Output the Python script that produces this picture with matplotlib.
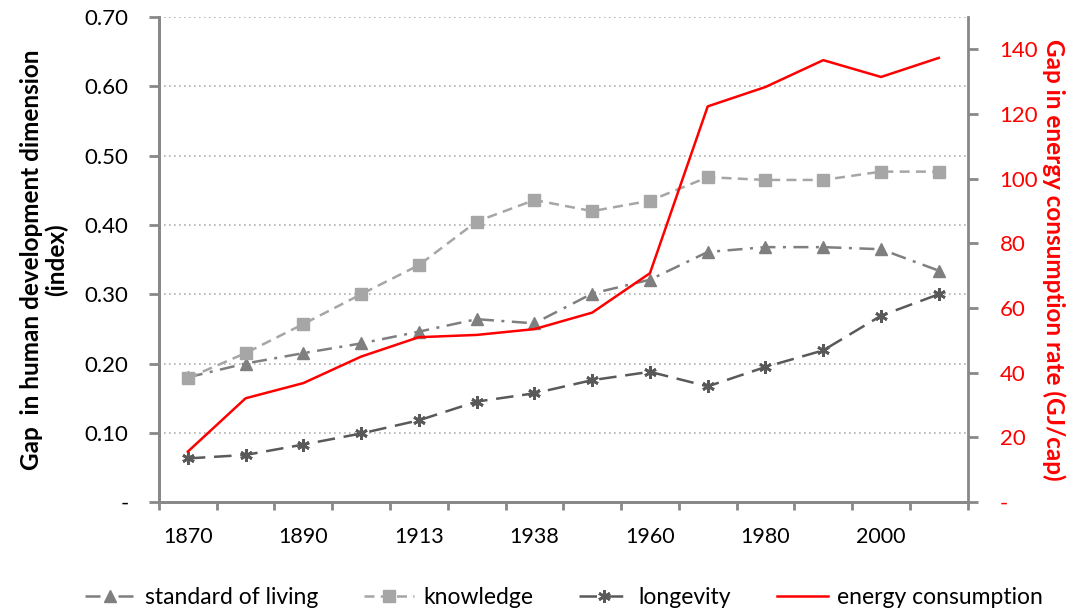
import matplotlib
matplotlib.use("Agg")
import matplotlib.pyplot as plt
import matplotlib.ticker as mticker
import numpy as np

plt.rcParams['font.family'] = ['Lato', 'DejaVu Sans']

years = ['1870', '1880', '1890', '1900', '1913', '1929', '1938',
         '1950', '1960', '1970', '1980', '1990', '2000', '2010']
standard_of_living = [0.180, 0.200, 0.215, 0.229, 0.246, 0.264, 0.258,
                      0.301, 0.321, 0.361, 0.368, 0.368, 0.365, 0.334]
knowledge = [0.179, 0.215, 0.257, 0.300, 0.342, 0.405, 0.436,
             0.420, 0.435, 0.469, 0.465, 0.465, 0.477, 0.477]
longevity = [0.063, 0.068, 0.083, 0.099, 0.118, 0.145, 0.157,
             0.176, 0.188, 0.167, 0.195, 0.219, 0.269, 0.300]
energy = [15.6, 32.1, 36.8, 45.0, 51.0, 51.7, 53.5,
          58.6, 70.8, 122.4, 128.4, 136.7, 131.5, 137.4]

x = np.arange(len(years))
axis_grey = '#888888'

fig = plt.figure(figsize=(10.74, 6.13), dpi=100)
ax = fig.add_axes([0.148, 0.181, 0.753, 0.791])
ax2 = ax.twinx()

l1, = ax.plot(x, standard_of_living, color='#7f7f7f', lw=1.8,
              dashes=(6, 3, 1.2, 3), marker='^', ms=8, label='standard of living')
l2, = ax.plot(x, knowledge, color='#a6a6a6', lw=1.8, dashes=(4, 2.5),
              marker='s', ms=8, label='knowledge')
l3, = ax.plot(x, longevity, color='#595959', lw=1.8, dashes=(7, 3.5),
              marker=(6, 2, 0), ms=9, mew=2, label='longevity')
l4, = ax2.plot(x, energy, color='#ff0000', lw=1.8, label='energy consumption')

ax.set_xlim(-0.5, len(years) - 0.5)
ax.set_ylim(0, 0.70)
ax2.set_ylim(0, 150)

ax.set_yticks(np.arange(0, 0.71, 0.1))
ax.yaxis.set_major_formatter(mticker.FuncFormatter(
    lambda v, p: '-' if abs(v) < 1e-9 else f'{v:.2f}'))
ax2.set_yticks(np.arange(0, 141, 20))
ax2.yaxis.set_major_formatter(mticker.FuncFormatter(
    lambda v, p: '-' if abs(v) < 1e-9 else f'{v:.0f}'))

ax.set_xticks(np.arange(-0.5, len(years), 1.0))
ax.set_xticklabels([])
ax.set_xticks(x[::2], minor=True)
ax.set_xticklabels(years[::2], minor=True)
ax.tick_params(axis='x', which='minor', length=0, pad=18, labelsize=15.5)
ax.tick_params(axis='x', which='major', length=6, width=2, color=axis_grey)
ax.tick_params(axis='y', length=7, width=2, color=axis_grey, labelsize=16, pad=15)
ax2.tick_params(axis='y', length=7, width=2, color=axis_grey, labelsize=16,
                labelcolor='#ff0000', pad=16)

ax.grid(axis='y', color='#b0b0b0', ls=(0, (1, 2)), lw=1.2)
ax.set_axisbelow(True)

for a in (ax, ax2):
    a.spines['top'].set_visible(False)
    for s in ('left', 'right', 'bottom'):
        a.spines[s].set_color(axis_grey)
        a.spines[s].set_linewidth(2)
ax.spines['right'].set_visible(False)

ax.set_ylabel('Gap  in human development dimension\n(index)', fontsize=17.5,
              fontweight='bold', labelpad=12, linespacing=1.05)
ax2.set_ylabel('Gap in energy consumption rate (GJ/cap)', fontsize=17.5,
               fontweight='bold', color='#ff0000', rotation=-90, labelpad=20)

fig.legend(handles=[l1, l2, l3, l4], loc='center', bbox_to_anchor=(0.525, 0.025),
           ncol=4, frameon=False, fontsize=16.5, handlelength=2.2,
           columnspacing=2.0, handletextpad=0.4)

fig.savefig('out.png', dpi=100)
